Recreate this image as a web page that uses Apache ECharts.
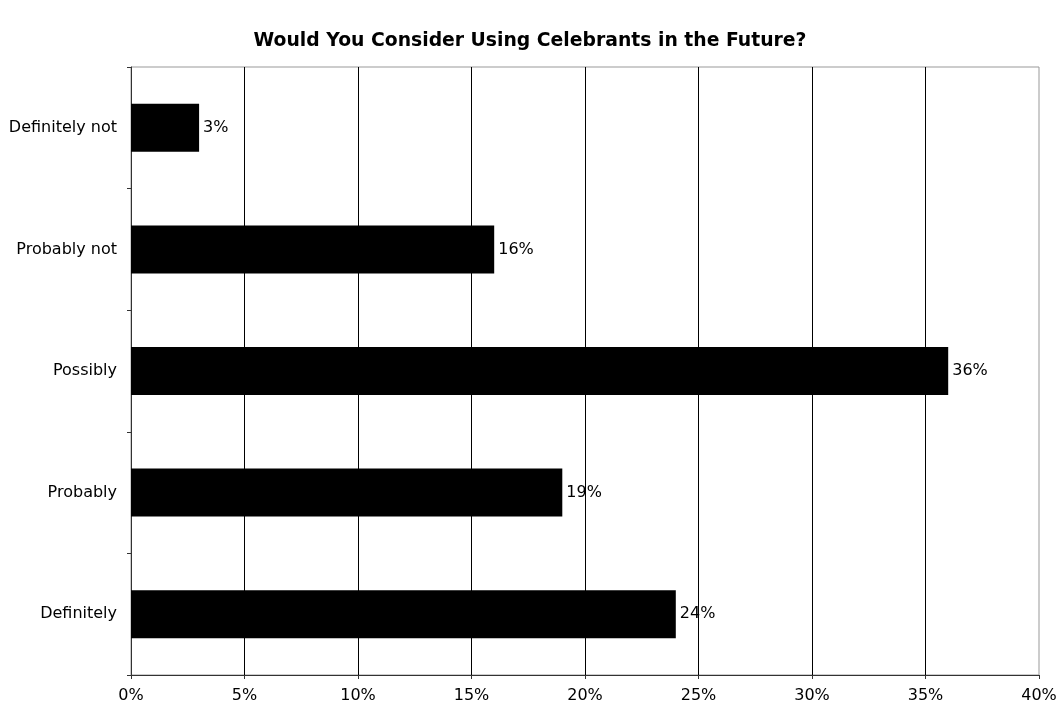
<!DOCTYPE html>
<html>
<head>
<meta charset="utf-8">
<script src="https://cdn.jsdelivr.net/npm/echarts@6/dist/echarts.min.js"></script>
<style>
  html, body { margin: 0; padding: 0; background: #fff; }
  #chart { width: 1060px; height: 704px; }
</style>
</head>
<body>
<div id="chart"></div>
<script>
// answers, bottom to top as drawn
const categories = ['Definitely', 'Probably', 'Possibly', 'Probably not', 'Definitely not']
const percents = [24, 19, 36, 16, 3]
const xTicks = [0, 5, 10, 15, 20, 25, 30, 35, 40]

const chart = echarts.init(document.getElementById('chart'))
chart.setOption({
  animation: false,
  textStyle: { fontFamily: 'DejaVu Sans' },
  title: {
    text: 'Would You Consider Using Celebrants in the Future?',
    left: 'center',
    top: 27,
    textStyle: { fontSize: 18.8, fontWeight: 'bold', color: '#000', fontFamily: 'DejaVu Sans' }
  },
  grid: {
    left: 131,
    right: 21,
    top: 67,
    bottom: 29,
    show: true,
    borderColor: '#999',
    borderWidth: 1
  },
  xAxis: {
    type: 'value',
    min: xTicks[0],
    max: xTicks[xTicks.length - 1],
    interval: 5,
    axisLine: { show: true, lineStyle: { color: '#333', width: 1 } },
    axisTick: { show: true, length: 4, lineStyle: { color: '#333' } },
    axisLabel: { formatter: '{value}%', color: '#000', fontSize: 16, margin: 13 },
    splitLine: { show: true, showMinLine: false, showMaxLine: false, lineStyle: { color: '#000', width: 1 } }
  },
  yAxis: {
    type: 'category',
    data: categories,
    axisLine: { show: true, lineStyle: { color: '#333', width: 1 } },
    axisTick: { show: true, length: 4, lineStyle: { color: '#333' } },
    axisLabel: { color: '#000', fontSize: 16, margin: 14, fontFamily: 'DejaVu Sans' },
    splitLine: { show: false }
  },
  series: [{
    type: 'bar',
    data: percents,
    barWidth: 48,
    itemStyle: { color: '#000' },
    label: {
      show: true,
      position: 'right',
      distance: 4,
      formatter: '{c}%',
      color: '#000',
      fontSize: 16,
      fontFamily: 'DejaVu Sans'
    }
  }]
})
</script>
</body>
</html>
